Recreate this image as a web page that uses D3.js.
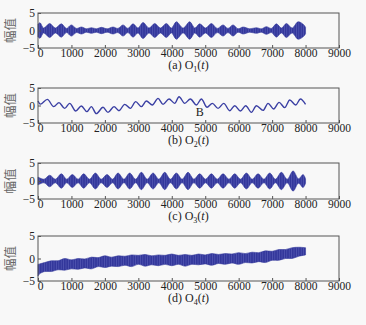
<!DOCTYPE html>
<html>
<head>
<meta charset="utf-8">
<script src="https://cdn.jsdelivr.net/npm/d3@7"></script>
<style>
  body { margin: 0; background: #f8f8f8; }
  text { font-family: "Liberation Serif", "Times New Roman", serif; }
</style>
</head>
<body>
<script>
const WIDTH = 366;
const HEIGHT = 325;
const LEFT = 38;
const RIGHT = 339;
const BLUE = "#33379b";
const STRIPE = "#5c62ba";

const X_TICKS = [0, 1000, 2000, 3000, 4000, 5000, 6000, 7000, 8000, 9000];
const Y_TICKS = [-5, 0, 5];
const Y_LABEL = "幅值";
const CAPTIONS = [["(a) O", "1"], ["(b) O", "2"], ["(c) O", "3"], ["(d) O", "4"]];

// (a) envelope: lobe peaks and necks, half amplitude
const aX = [0, 60, 170, 349, 520, 698, 850, 997, 1150, 1296, 1450, 1595, 1750, 1894, 2070, 2243, 2390, 2542, 2690, 2841, 2990, 3140, 3320, 3490, 3660, 3838, 3990, 4137, 4340, 4536, 4690, 4835, 5010, 5184, 5360, 5533, 5680, 5832, 5980, 6131, 6330, 6530, 6680, 6829, 6980, 7128, 7280, 7427, 7600, 7776, 7950, 8000];
const aAmp = [1.8, 2.2, 0.7, 2.0, 0.7, 1.9, 0.6, 1.6, 0.6, 1.0, 0.5, 0.8, 0.5, 0.9, 0.5, 1.0, 0.6, 1.6, 0.6, 1.9, 0.7, 2.3, 0.7, 2.0, 0.7, 2.0, 0.7, 2.5, 0.7, 2.5, 0.7, 1.9, 0.7, 2.0, 0.6, 1.6, 0.6, 1.6, 0.5, 1.0, 0.5, 0.8, 0.5, 1.1, 0.6, 1.9, 0.7, 2.0, 0.7, 2.5, 1.6, 0.9];

// (b) smooth wave: peaks and troughs
const bX = [0, 70, 279, 470, 628, 797, 947, 1126, 1296, 1465, 1595, 1744, 1944, 2093, 2273, 2422, 2592, 2762, 2921, 3091, 3240, 3420, 3589, 3739, 3918, 4088, 4217, 4386, 4556, 4736, 4885, 5055, 5214, 5384, 5553, 5733, 5882, 6052, 6211, 6381, 6530, 6729, 6879, 7048, 7208, 7378, 7527, 7707, 7846, 8000];
const bY = [1.3, 0.4, 1.76, -0.33, 0.81, -0.81, 0.62, -1.57, -0.14, -1.76, -0.33, -2.33, -0.52, -1.95, -0.33, -1.48, 0.33, -0.81, 1.1, -0.33, 1.29, 0.14, 2.05, 0.33, 1.86, 0.62, 2.52, 0.62, 1.86, 0.14, 1.86, -0.52, 0.62, -0.81, 0.62, -1.48, -0.05, -1.57, -0.05, -1.95, -0.05, -1.38, 0.62, -1.0, 0.9, -0.62, 1.57, 0.14, 1.86, 0.33];
const B_NOTE = { x: 4835, y: -2.3, text: "B" };

// (c) envelope: lobe peaks and necks
const cX = [0, 180, 349, 520, 698, 860, 1027, 1200, 1366, 1540, 1715, 1890, 2064, 2230, 2393, 2570, 2742, 2920, 3091, 3265, 3440, 3615, 3789, 3960, 4137, 4310, 4486, 4660, 4835, 5010, 5184, 5360, 5533, 5710, 5882, 6055, 6231, 6405, 6580, 6755, 6929, 7100, 7278, 7450, 7627, 7790, 7926, 8000];
const cAmp = [1.1, 0.5, 1.6, 0.5, 2.0, 0.5, 1.8, 0.5, 2.0, 0.5, 2.2, 0.5, 1.8, 0.5, 2.2, 0.5, 2.2, 0.5, 2.4, 0.5, 2.2, 0.5, 2.4, 0.5, 2.2, 0.5, 2.4, 0.5, 2.0, 0.5, 2.0, 0.5, 2.0, 0.5, 2.0, 0.5, 2.2, 0.5, 2.0, 0.5, 2.2, 0.5, 2.4, 0.5, 2.8, 0.6, 1.8, 0.6];

// (d) trend with a band around it
const dX = [0, 50, 200, 400, 600, 800, 1000, 1200, 1400, 1600, 1800, 2000, 2200, 2400, 2600, 2800, 3000, 3200, 3400, 3600, 3800, 4000, 4200, 4400, 4600, 4800, 5000, 5200, 5400, 5600, 5800, 6000, 6200, 6400, 6600, 6800, 7000, 7200, 7400, 7600, 7800, 8000];
const dMid = [-2.6, -2.3, -1.9, -1.7, -1.5, -1.3, -1.3, -1.2, -1.1, -1.0, -0.8, -0.7, -0.7, -0.6, -0.5, -0.5, -0.3, -0.4, -0.4, -0.4, -0.3, -0.3, -0.3, -0.4, -0.3, -0.2, -0.2, -0.2, -0.1, -0.1, 0.0, 0.0, 0.1, 0.2, 0.3, 0.4, 0.6, 0.8, 1.0, 1.2, 1.5, 1.6];
const dAmp = [1.3, 1.1, 1.0, 1.2, 1.0, 1.3, 1.0, 1.2, 1.0, 1.3, 1.0, 1.3, 1.0, 1.2, 1.0, 1.3, 1.0, 1.3, 1.0, 1.2, 1.0, 1.3, 1.0, 1.3, 1.0, 1.2, 1.0, 1.3, 1.0, 1.2, 1.0, 1.3, 1.0, 1.2, 1.0, 1.3, 1.0, 1.2, 1.0, 1.2, 1.0, 0.8];

const PANELS = [
  { top: 13, bottom: 48, kind: "band", xs: aX, mid: aX.map(() => 0), amp: aAmp },
  { top: 88, bottom: 123, kind: "line", xs: bX, ys: bY },
  { top: 163, bottom: 199, kind: "band", xs: cX, mid: cX.map(() => 0), amp: cAmp },
  { top: 236, bottom: 281, kind: "band", xs: dX, mid: dMid, amp: dAmp }
];

const svg = d3.select("body").append("svg")
  .attr("width", WIDTH).attr("height", HEIGHT)
  .style("background", "#f8f8f8");

const pat = svg.append("defs").append("pattern")
  .attr("id", "stripes").attr("patternUnits", "userSpaceOnUse")
  .attr("width", 2.4).attr("height", 20);
pat.append("rect").attr("width", 2.4).attr("height", 20).attr("fill", BLUE);
pat.append("line").attr("x1", 1.2).attr("x2", 1.2).attr("y1", 0).attr("y2", 20)
  .attr("stroke", STRIPE).attr("stroke-width", 0.6);

const xScale = d3.scaleLinear().domain([0, 9000]).range([LEFT, RIGHT]);

PANELS.forEach((p, i) => {
  const yScale = d3.scaleLinear().domain([-5, 5]).range([p.bottom, p.top]);
  const g = svg.append("g");

  if (p.kind === "band") {
    const pts = p.xs.map((x, k) => ({ x: x, lo: p.mid[k] - p.amp[k], hi: p.mid[k] + p.amp[k] }));
    const area = d3.area()
      .x(d => xScale(d.x))
      .y0(d => yScale(d.lo))
      .y1(d => yScale(d.hi))
      .curve(d3.curveCatmullRom.alpha(0.5));
    g.append("path").datum(pts)
      .attr("d", area)
      .attr("fill", "url(#stripes)")
      .attr("stroke", BLUE).attr("stroke-width", 0.6);
  } else {
    const pts = p.xs.map((x, k) => ({ x: x, y: p.ys[k] }));
    const line = d3.line()
      .x(d => xScale(d.x))
      .y(d => yScale(d.y))
      .curve(d3.curveMonotoneX);
    g.append("path").datum(pts)
      .attr("d", line)
      .attr("fill", "none")
      .attr("stroke", "#3a3fa3").attr("stroke-width", 1.4);
    g.append("text")
      .attr("x", xScale(B_NOTE.x)).attr("y", yScale(B_NOTE.y))
      .attr("text-anchor", "middle").attr("dominant-baseline", "middle")
      .attr("font-size", 12).attr("fill", "#222")
      .text(B_NOTE.text);
  }

  const xAxis = d3.axisBottom(xScale).tickValues(X_TICKS).tickFormat(d3.format("d"))
    .tickSizeInner(-3).tickSizeOuter(0).tickPadding(1);
  const yAxis = d3.axisLeft(yScale).tickValues(Y_TICKS).tickFormat(d3.format("d"))
    .tickSizeInner(-3).tickSizeOuter(0).tickPadding(3);

  const gx = g.append("g").attr("transform", "translate(0," + p.bottom + ")").call(xAxis);
  const gy = g.append("g").attr("transform", "translate(" + LEFT + ",0)").call(yAxis);
  [gx, gy].forEach(a => {
    a.select(".domain").remove();
    a.selectAll(".tick line").attr("stroke", "#555");
    a.selectAll(".tick text")
      .attr("font-family", "Liberation Serif, serif")
      .attr("font-size", 11.5).attr("fill", "#222");
  });
  // keep the first x label clear of the -5 label
  gx.selectAll(".tick text").filter(d => d === 0).attr("dx", 2);

  g.append("rect")
    .attr("x", LEFT).attr("y", p.top)
    .attr("width", RIGHT - LEFT).attr("height", p.bottom - p.top)
    .attr("fill", "none").attr("stroke", "#555").attr("stroke-width", 1);

  g.append("text")
    .attr("transform", "translate(12," + (p.top + p.bottom) / 2 + ") rotate(-90)")
    .attr("text-anchor", "middle").attr("dominant-baseline", "middle")
    .style("font-family", "'Noto Sans CJK SC', sans-serif")
    .attr("font-size", 12.5).attr("fill", "#666")
    .text(Y_LABEL);

  const cap = g.append("text")
    .attr("x", (LEFT + RIGHT) / 2).attr("y", p.bottom + 21)
    .attr("text-anchor", "middle")
    .attr("font-size", 12).attr("fill", "#222");
  cap.append("tspan").text(CAPTIONS[i][0]);
  cap.append("tspan").attr("dy", 3).attr("font-size", 8).text(CAPTIONS[i][1]);
  cap.append("tspan").attr("dy", -3).text("(");
  cap.append("tspan").attr("font-style", "italic").text("t");
  cap.append("tspan").text(")");
});
</script>
</body>
</html>
